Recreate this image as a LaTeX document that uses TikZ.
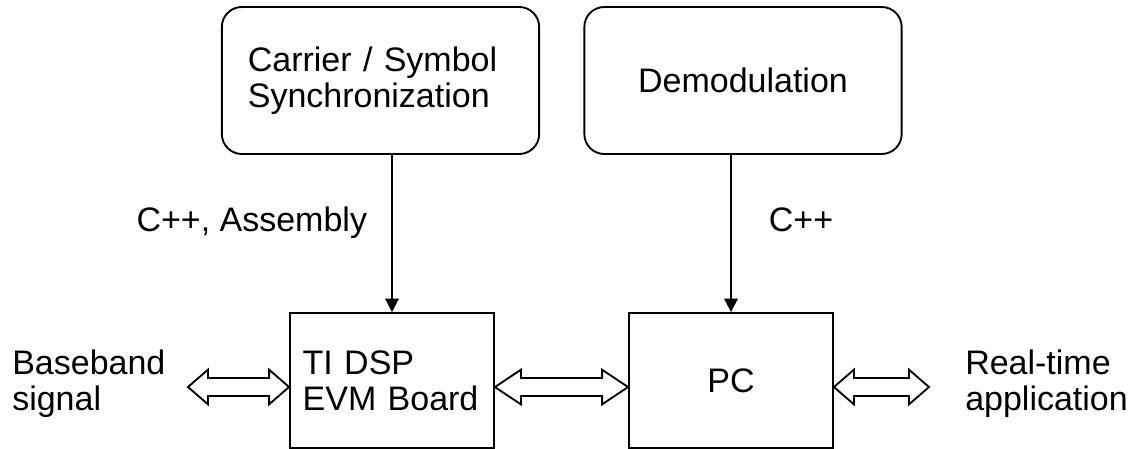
\documentclass[tikz,border=0pt]{standalone}
\usepackage{fontspec}
\setmainfont{Liberation Sans}
\usetikzlibrary{arrows.meta,calc,positioning}

\tikzset{
  blk/.style={draw, line width=1.4pt, inner sep=0pt, font=\fontsize{25.5}{27}\selectfont},
  roundblk/.style={blk, rounded corners=15pt, minimum width=238pt, minimum height=110.25pt},
  rectblk/.style={blk, minimum width=153pt, minimum height=101.25pt},
  lbl/.style={inner sep=0pt, font=\fontsize{25.5}{27}\selectfont},
  feed/.style={line width=1.4pt, -{Triangle[length=10pt,width=10pt]}},
  fat/.style={line width=1.4pt, line join=miter}
}
\newcommand{\fatarrow}[3]{%
  \draw[fat] let \p1=(#1), \p2=(#2) in
    (\p1) -- (\x1+#3,\y1+13pt) -- (\x1+#3,\y1+6.75pt) -- (\x2-#3,\y1+6.75pt)
    -- (\x2-#3,\y1+13pt) -- (\x2,\y1) -- (\x2-#3,\y1-13pt) -- (\x2-#3,\y1-6.75pt)
    -- (\x1+#3,\y1-6.75pt) -- (\x1+#3,\y1-13pt) -- cycle;}

\begin{document}
\begin{tikzpicture}[x=0.75pt,y=-0.75pt]
\useasboundingbox (0,0) rectangle (1133,449);
\node[roundblk, text width=199pt, align=left] (sync) at (380.5,80.5) {Carrier / Symbol\\Synchronization};
\node[roundblk] (demod) at (743,80.5) {Demodulation};
\node[rectblk, text width=134pt, align=left] (dsp) at (392,380.5) {TI DSP\\EVM Board};
\node[rectblk] (pc) at (731,380.5) {PC};
\node[lbl, anchor=west, align=left] (baseband) at (12,384) {Baseband\\signal};
\node[lbl, anchor=west, align=left] (realtime) at (965,384) {Real-time\\application};
\coordinate (bbtip) at (188,387);
\coordinate (rttip) at (929,387);
\draw[feed] (dsp.north |- sync.south) -- node[lbl, pos=0.434, left=18pt] {C++, Assembly} (dsp.north);
\draw[feed] (pc.north |- demod.south) -- node[lbl, pos=0.41, right=27.75pt] {C++} (pc.north);
\fatarrow{bbtip}{[yshift=-4.9pt]dsp.west}{15pt}
\fatarrow{[yshift=-4.9pt]dsp.east}{[yshift=-4.9pt]pc.west}{19.5pt}
\fatarrow{[yshift=-4.9pt]pc.east}{rttip}{15pt}
\end{tikzpicture}
\end{document}
